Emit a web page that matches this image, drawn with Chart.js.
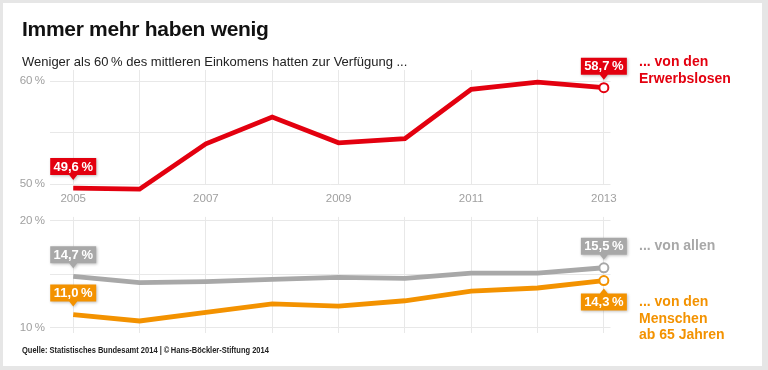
<!DOCTYPE html>
<html>
<head>
<meta charset="utf-8">
<script src="https://cdn.jsdelivr.net/npm/chart.js@4"></script>
<style>
  body { margin:0; width:768px; height:370px; overflow:hidden; background:#e6e6e6; font-family:"Liberation Sans", Arial, sans-serif; position:relative; }
  #frame { position:absolute; left:3px; top:3px; width:759px; height:363px; background:#fff; }
  canvas { position:absolute; left:0; }
  #top { top:40px; }
  #bottom { top:205px; }
  .txt { position:absolute; white-space:nowrap; }
  #title { left:22px; top:17px; font-size:21px; font-weight:bold; color:#111; letter-spacing:-0.3px; }
  #sub { left:22px; top:54px; font-size:13px; color:#222; }
  #src { left:22px; top:344px; font-size:9.5px; font-weight:bold; color:#222; transform:scaleX(0.79); transform-origin:0 0; }
  .side { font-size:14px; font-weight:bold; line-height:17px; left:639px; }
  #labRed { top:53px; color:#e3000f; }
  #labGray { top:237px; color:#a8a8a8; }
  #labOrange { top:293px; color:#f39200; line-height:16.5px; }
</style>
</head>
<body>
<div id="frame"></div>
<canvas id="top" width="768" height="172"></canvas>
<canvas id="bottom" width="768" height="140"></canvas>
<div class="txt" id="title">Immer mehr haben wenig</div>
<div class="txt" id="sub">Weniger als 60&#8201;% des mittleren Einkomens hatten zur Verfügung ...</div>
<div class="txt side" id="labRed">... von den<br>Erwerbslosen</div>
<div class="txt side" id="labGray">... von allen</div>
<div class="txt side" id="labOrange">... von den<br>Menschen<br>ab 65 Jahren</div>
<div class="txt" id="src">Quelle: Statistisches Bundesamt 2014 | ©&#8201;Hans-Böckler-Stiftung 2014</div>

<script>
// Daten
const years = [2005, 2006, 2007, 2008, 2009, 2010, 2011, 2012, 2013];
const erwerbslose = [49.6, 49.5, 53.9, 56.5, 54.0, 54.4, 59.2, 59.9, 59.35];
const alle = [14.8, 14.2, 14.3, 14.5, 14.7, 14.6, 15.1, 15.1, 15.6];
const ab65 = [11.2, 10.6, 11.4, 12.2, 12.0, 12.5, 13.4, 13.7, 14.4];
const erwerbsloseLabels = ['49,6\u2009%', '58,7\u2009%'];
const alleLabels = ['14,7\u2009%', '15,5\u2009%'];
const ab65Labels = ['11,0\u2009%', '14,3\u2009%'];

const RED = '#e3000f', GRAY = '#a8a8a8', ORANGE = '#f39200';
const GRID = '#e8e8e8', TICK = '#a0a0a0';
const FONT = '"Liberation Sans", Arial, sans-serif';

// Fähnchen mit Wert an erstem und letztem Punkt
const calloutPlugin = {
  id: 'callouts',
  afterDatasetsDraw(chart) {
    const ctx = chart.ctx;
    chart.data.datasets.forEach((ds, di) => {
      const meta = chart.getDatasetMeta(di);
      (ds.callouts || []).forEach(c => {
        const pt = meta.data[c.index];
        const w = 46, h = 17, gap = 8, arrow = 5;
        const x = pt.x;
        let boxTop, tipY, base;
        if (c.below) { tipY = pt.y + gap; boxTop = tipY + arrow; base = boxTop; }
        else { tipY = pt.y - gap; boxTop = tipY - arrow - h; base = boxTop + h; }
        ctx.save();
        ctx.shadowColor = 'rgba(0,0,0,0.25)';
        ctx.shadowBlur = 3;
        ctx.shadowOffsetX = 1;
        ctx.shadowOffsetY = 1;
        ctx.fillStyle = c.color;
        ctx.beginPath();
        ctx.rect(x - w / 2, boxTop, w, h);
        ctx.moveTo(x - 4, base);
        ctx.lineTo(x, tipY);
        ctx.lineTo(x + 4, base);
        ctx.closePath();
        ctx.fill();
        ctx.restore();
        ctx.save();
        ctx.fillStyle = '#fff';
        ctx.font = 'bold 13px ' + FONT;
        ctx.textAlign = 'center';
        ctx.textBaseline = 'middle';
        ctx.fillText(c.text, x, boxTop + h / 2 + 0.5);
        ctx.restore();
      });
    });
  }
};

function lineSet(data, color, labels) {
  const last = data.length - 1;
  return {
    data: data.map((v, i) => ({x: years[i], y: v})),
    borderColor: color,
    borderWidth: 4.8,
    borderJoinStyle: 'miter',
    tension: 0,
    clip: false,
    pointRadius: ctx => ctx.dataIndex === last ? 4.5 : 0,
    pointBackgroundColor: '#fff',
    pointBorderColor: color,
    pointBorderWidth: 2,
    callouts: [
      {index: 0, text: labels[0], color: color},
      {index: last, text: labels[1], color: color}
    ]
  };
}

function makeChart(id, datasets, yMin, yMax, showYears, pad, xHeight) {
  return new Chart(document.getElementById(id), {
    type: 'line',
    data: {datasets: datasets},
    plugins: [calloutPlugin],
    options: {
      responsive: false,
      animation: false,
      layout: {padding: {top: pad, right: 157.5, left: 0, bottom: 0}},
      plugins: {legend: {display: false}, tooltip: {enabled: false}},
      scales: {
        x: {
          type: 'linear',
          min: 2004.65, max: 2013.1,
          border: {display: false},
          grid: {color: GRID, lineWidth: 1, drawTicks: false},
          afterFit: s => { s.height = xHeight; },
          ticks: {
            display: showYears,
            stepSize: 1,
            includeBounds: false,
            autoSkip: false,
            maxRotation: 0,
            padding: 8,
            color: TICK,
            font: {family: FONT, size: 11.5},
            callback: v => v % 2 === 1 ? String(v) : ''
          }
        },
        y: {
          min: yMin, max: yMax,
          border: {display: false},
          grid: {color: GRID, lineWidth: 1, drawTicks: false},
          afterFit: s => { s.width = 50; },
          ticks: {
            stepSize: 5,
            includeBounds: false,
            padding: 5,
            color: TICK,
            font: {family: FONT, size: 11.5},
            callback: v => (v % 10 === 0) ? v + '\u2009%' : ''
          }
        }
      }
    }
  });
}

makeChart('top', [lineSet(erwerbslose, RED, erwerbsloseLabels)], 50, 61.07, true, 30, 28);

const alleSet = lineSet(alle, GRAY, alleLabels);
const ab65Set = lineSet(ab65, ORANGE, ab65Labels);
ab65Set.callouts[1].below = true;
makeChart('bottom', [alleSet, ab65Set], 9.46, 20.38, false, 8, 10);
</script>
</body>
</html>
